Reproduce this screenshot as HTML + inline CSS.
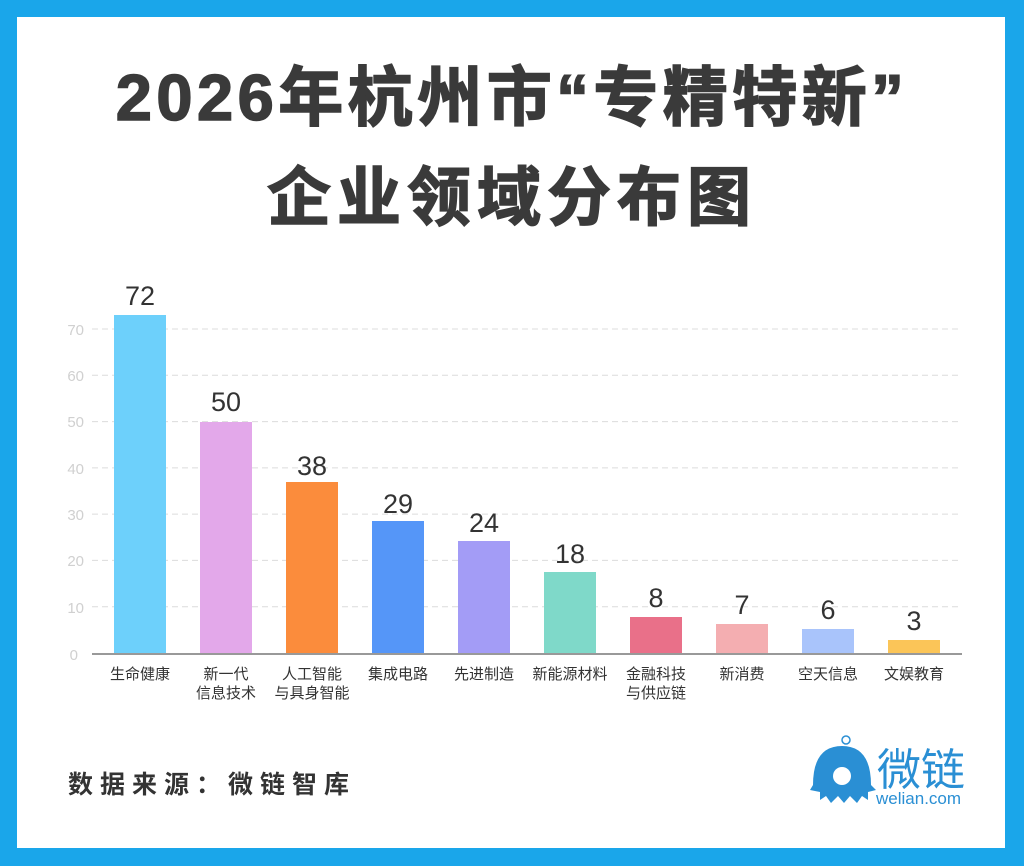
<!DOCTYPE html>
<html><head><meta charset="utf-8"><style>
body{margin:0;width:1024px;height:866px;background:#1aa6ea;overflow:hidden}
.card{position:absolute;left:17px;top:17px;width:988px;height:831px;background:#fff}
svg{position:absolute;left:0;top:0}
</style></head><body>
<div class="card"></div>
<svg width="1024" height="866" font-family="'Liberation Sans','Noto Sans CJK SC',sans-serif">
<text x="512" y="120" text-anchor="middle" font-size="65" font-weight="bold" fill="#3a3a3a" letter-spacing="4.5" stroke="#3a3a3a" stroke-width="1.5">2026年杭州市“专精特新”</text>
<text x="512" y="220" text-anchor="middle" font-size="64" font-weight="bold" fill="#3a3a3a" letter-spacing="6" stroke="#3a3a3a" stroke-width="1.5">企业领域分布图</text>
<g stroke="#dcdcdc" stroke-dasharray="6,4" stroke-width="1">
<line x1="92" x2="962" y1="329" y2="329"/><line x1="92" x2="962" y1="375.3" y2="375.3"/>
<line x1="92" x2="962" y1="421.6" y2="421.6"/><line x1="92" x2="962" y1="467.9" y2="467.9"/>
<line x1="92" x2="962" y1="514.1" y2="514.1"/><line x1="92" x2="962" y1="560.4" y2="560.4"/>
<line x1="92" x2="962" y1="606.7" y2="606.7"/>
</g>
<g font-size="15" fill="#d0d0d0" text-anchor="end">
<text x="84" y="335">70</text><text x="84" y="381">60</text><text x="84" y="427">50</text>
<text x="84" y="474">40</text><text x="84" y="520">30</text><text x="84" y="566">20</text>
<text x="84" y="613">10</text><text x="78" y="660">0</text>
</g>
<g>
<rect x="114" y="315" width="52" height="338" fill="#6dd0fb"/>
<rect x="200" y="422" width="52" height="231" fill="#e3a8ea"/>
<rect x="286" y="482" width="52" height="171" fill="#fb8c3c"/>
<rect x="372" y="521" width="52" height="132" fill="#5596f8"/>
<rect x="458" y="541" width="52" height="112" fill="#a39cf6"/>
<rect x="544" y="572" width="52" height="81" fill="#7fd9c9"/>
<rect x="630" y="617" width="52" height="36" fill="#e97089"/>
<rect x="716" y="624" width="52" height="29" fill="#f4aeb1"/>
<rect x="802" y="629" width="52" height="24" fill="#a9c4fb"/>
<rect x="888" y="640" width="52" height="13" fill="#fbc558"/>
</g>
<line x1="92" x2="962" y1="654" y2="654" stroke="#999" stroke-width="2"/>
<g font-size="27" fill="#333" text-anchor="middle">
<text x="140" y="305">72</text><text x="226" y="411">50</text><text x="312" y="475">38</text>
<text x="398" y="513">29</text><text x="484" y="532">24</text><text x="570" y="563">18</text>
<text x="656" y="607">8</text><text x="742" y="614">7</text><text x="828" y="619">6</text>
<text x="914" y="630">3</text>
</g>
<g font-size="15" fill="#333" text-anchor="middle">
<text x="140" y="679">生命健康</text>
<text x="226" y="679">新一代</text><text x="226" y="698">信息技术</text>
<text x="312" y="679">人工智能</text><text x="312" y="698">与具身智能</text>
<text x="398" y="679">集成电路</text><text x="484" y="679">先进制造</text>
<text x="570" y="679">新能源材料</text>
<text x="656" y="679">金融科技</text><text x="656" y="698">与供应链</text>
<text x="742" y="679">新消费</text><text x="828" y="679">空天信息</text><text x="914" y="679">文娱教育</text>
</g>
<text x="68" y="793" font-size="25" font-weight="bold" fill="#333" letter-spacing="7">数据来源：微链智库</text>
<g fill="#2a8fd4">
<path d="M813 785 Q813 746 842 746 Q871 746 871 785 L876 790 L868 792 L868 800 L862 796 L857 803 L850 796 L844 803 L838 796 L831 803 L826 796 L820 800 L820 792 L810 790 Z"/>
<circle cx="842" cy="776" r="9" fill="#fff"/>
<circle cx="846" cy="740" r="4" fill="none" stroke="#2a8fd4" stroke-width="1.5"/>
<text x="877" y="785" font-size="44" fill="#2a8fd4">微链</text>
<text x="876" y="804" font-size="17" fill="#2a8fd4">welian.com</text>
</g>
</svg>
</body></html>
